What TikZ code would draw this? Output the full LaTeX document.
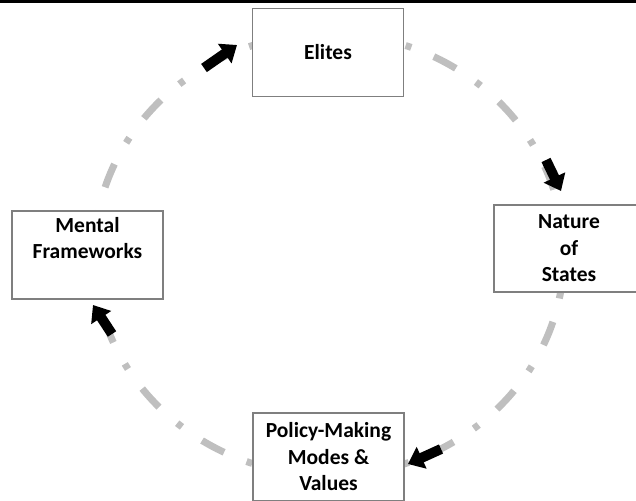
\documentclass[tikz,border=0pt]{standalone}
\usepackage{fontspec}
\setmainfont{Carlito}
\usetikzlibrary{arrows.meta}
\definecolor{ringgray}{RGB}{191,191,191}
\definecolor{boxgray}{RGB}{127,127,127}
\begin{document}
\begin{tikzpicture}[x=1pt,y=-1pt,
  box/.style={draw=boxgray, line width=1.5pt, fill=white, minimum width=151pt, minimum height=88pt, inner sep=0pt, align=center, font=\fontsize{21.5}{26.5}\selectfont\bfseries},
  ring/.style={draw=ringgray, line width=7pt, dash pattern=on 25pt off 24.3pt on 6pt off 24.3pt, dash phase=13.7pt},
  flow/.style={line width=10pt, -{Triangle[length=15pt,width=23pt]}},
  rule/.style={line width=3pt}]
\useasboundingbox (0,0) rectangle (636,500);
\begin{scope}
\clip (0,0) rectangle (636,500);
\coordinate (ringc) at (329,254.5);
\draw[ring] (ringc) ellipse [x radius=235pt, y radius=221pt];
\node[box] (elites) at (328,52.5) {Elites};
\node[box, minimum width=150pt, minimum height=87pt] (nature) at (569,248.5) {Nature\\of\\States};
\node[box] (mental) at (87.5,255) {Mental\\Frameworks\\\strut};
\node[box] (policy) at (328.5,457) {Policy-Making\\Modes \&\\Values};
\coordinate (a1s) at (204,68);  \coordinate (a1e) at (237,45);
\coordinate (a2s) at (546,160); \coordinate (a2e) at (561,191);
\coordinate (a3s) at (441,449); \coordinate (a3e) at (408,464);
\coordinate (a4s) at (112,334); \coordinate (a4e) at (93,305);
\draw[flow] (a1s) -- (a1e);
\draw[flow] (a2s) -- (a2e);
\draw[flow] (a3s) -- (a3e);
\draw[flow] (a4s) -- (a4e);
\coordinate (topl) at (0,2);
\coordinate (topr) at (636,2);
\draw[rule] (topl) -- (topr);
\end{scope}
\end{tikzpicture}
\end{document}
